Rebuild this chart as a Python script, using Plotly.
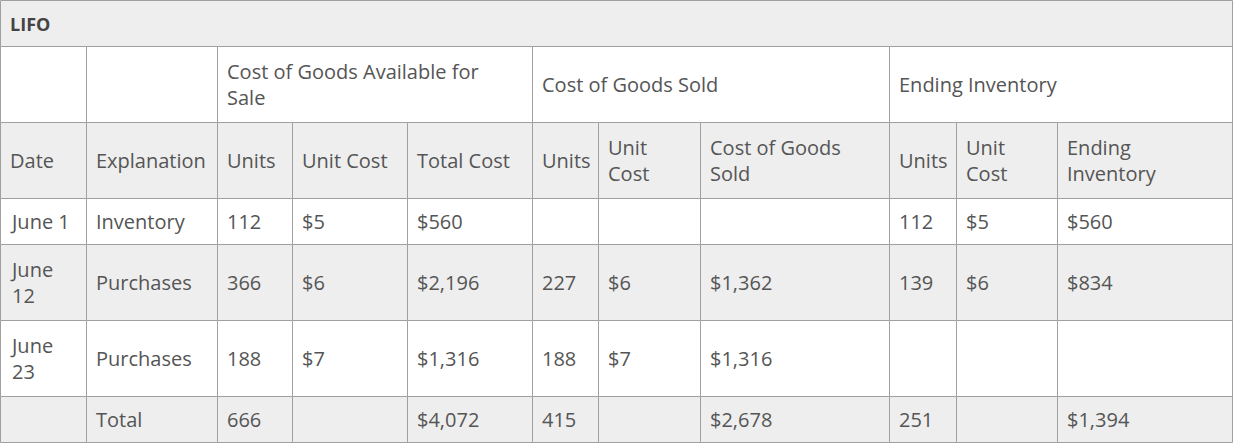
import plotly.graph_objects as go

title = "LIFO"
group_headers = ["", "", "Cost of Goods Available for<br>Sale", "Cost of Goods Sold", "Ending Inventory"]
group_spans = [1, 1, 3, 3, 3]
col_headers = ["Date", "Explanation", "Units", "Unit Cost", "Total Cost", "Units", "Unit<br>Cost",
               "Cost of Goods<br>Sold", "Units", "Unit<br>Cost", "Ending<br>Inventory"]
rows = [
    ["June 1", "Inventory", "112", "$5", "$560", "", "", "", "112", "$5", "$560"],
    ["June<br>12", "Purchases", "366", "$6", "$2,196", "227", "$6", "$1,362", "139", "$6", "$834"],
    ["June<br>23", "Purchases", "188", "$7", "$1,316", "188", "$7", "$1,316", "", "", ""],
    ["", "Total", "666", "", "$4,072", "415", "", "$2,678", "251", "", "$1,394"],
]

# layout geometry (pixels)
col_x = [0, 86, 217, 292, 407, 532, 598, 700, 889, 956, 1057, 1232]
row_y = [0, 46, 122, 198, 244, 320, 396, 442]
row_bg = ["#eeeeee", "#ffffff", "#eeeeee", "#ffffff", "#eeeeee", "#ffffff", "#eeeeee"]
line = dict(color="#a0a0a0", width=1)
font = dict(family="Open Sans", size=20, color="#555555")

shapes, annots = [], []

def cell(x0, x1, y0, y1, fill, text, f=font):
    shapes.append(dict(type="rect", x0=x0, x1=x1, y0=y0, y1=y1, fillcolor=fill, line=line, layer="below"))
    if text:
        annots.append(dict(x=x0 + 7, y=(y0 + y1) / 2, text=text, showarrow=False, xanchor="left",
                           yanchor="middle", align="left", font=f))

cell(col_x[0], col_x[-1], row_y[0], row_y[1], row_bg[0], "<b>" + title + "</b>",
     dict(family="Open Sans", size=18, color="#444444"))

c = 0
for text, span in zip(group_headers, group_spans):
    cell(col_x[c], col_x[c + span], row_y[1], row_y[2], row_bg[1], text)
    c += span

for i, text in enumerate(col_headers):
    cell(col_x[i], col_x[i + 1], row_y[2], row_y[3], row_bg[2], text)

for r, row in enumerate(rows):
    for i, text in enumerate(row):
        cell(col_x[i], col_x[i + 1], row_y[r + 3], row_y[r + 4], row_bg[r + 3], text)

fig = go.Figure()
fig.update_layout(
    width=1234, height=445, margin=dict(l=0, r=0, t=0, b=0),
    plot_bgcolor="white", paper_bgcolor="white",
    shapes=shapes, annotations=annots,
    xaxis=dict(range=[-0.5, 1233.5], visible=False, fixedrange=True),
    yaxis=dict(range=[444.5, -0.5], visible=False, fixedrange=True),
)
fig.write_html("out.html", config={"displayModeBar": False},
               post_script="document.body.style.margin='0';")
